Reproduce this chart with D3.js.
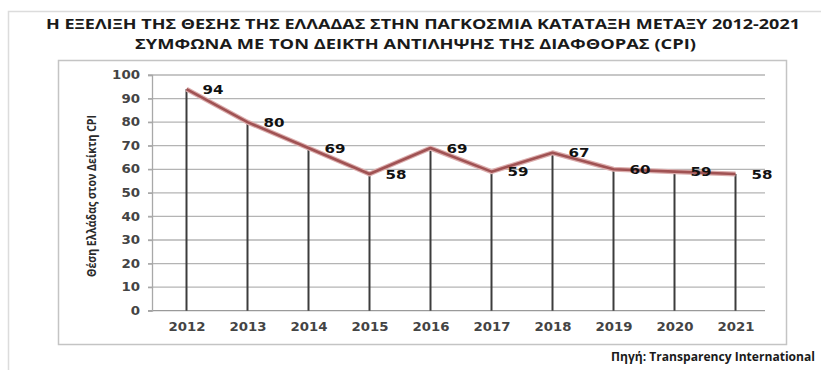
<!DOCTYPE html>
<html>
<head>
<meta charset="utf-8">
<script src="https://cdn.jsdelivr.net/npm/d3@7"></script>
<style>
  body { margin: 0; background: #fff; }
  svg { display: block; }
</style>
</head>
<body>
<div id="chart"></div>
<script>
// Greece's rank in the CPI, 2012-2021
const years = ["2012", "2013", "2014", "2015", "2016", "2017", "2018", "2019", "2020", "2021"];
const ranks = [94, 80, 69, 58, 69, 59, 67, 60, 59, 58];
const yTicks = [0, 10, 20, 30, 40, 50, 60, 70, 80, 90, 100];

const titleLines = [
    "Η ΕΞΕΛΙΞΗ ΤΗΣ ΘΕΣΗΣ ΤΗΣ ΕΛΛΑΔΑΣ ΣΤΗΝ ΠΑΓΚΟΣΜΙΑ ΚΑΤΑΤΑΞΗ ΜΕΤΑΞΥ 2012-2021",
    "ΣΥΜΦΩΝΑ ΜΕ ΤΟΝ ΔΕΙΚΤΗ ΑΝΤΙΛΗΨΗΣ ΤΗΣ ΔΙΑΦΘΟΡΑΣ (CPI)"
];
const yTitle = "Θέση Ελλάδας στον Δείκτη CPI";
const source = "Πηγή: Transparency International";

const width = 821;
const height = 370;

const svg = d3.select("#chart")
    .append("svg")
    .attr("width", width)
    .attr("height", height);

// outer frame (cut off at the right / bottom)
svg.append("rect")
    .attr("x", 8.5).attr("y", 11.5)
    .attr("width", 900).attr("height", 400)
    .attr("fill", "none")
    .attr("stroke", "#dcdcdc")
    .attr("stroke-width", 1.5);

// inner chart frame
svg.append("rect")
    .attr("x", 58.5).attr("y", 60.5)
    .attr("width", 728).attr("height", 284)
    .attr("fill", "none")
    .attr("stroke", "#c4c4c4")
    .attr("stroke-width", 1.5);

// titles
svg.selectAll(".title")
    .data(titleLines)
    .enter()
    .append("text")
        .attr("class", "title")
        .attr("x", function(d, i) { return i === 0 ? 46 : 135; })
        .attr("y", function(d, i) { return i === 0 ? 28.5 : 49; })
        .attr("textLength", function(d, i) { return i === 0 ? 754 : 561; })
        .attr("lengthAdjust", "spacingAndGlyphs")
        .style("font-family", "'Open Sans', sans-serif")
        .style("font-weight", "bold")
        .style("font-size", "15px")
        .style("fill", "#1a1a1a")
        .text(function(d) { return d; });

const plotLeft = 152;
const plotRight = 765;

const xScale = d3.scalePoint()
    .domain(years)
    .range([186.5, 735.5]);

const yScale = d3.scaleLinear()
    .domain([0, 100])
    .range([310.7, 75]);

// horizontal gridlines
svg.selectAll(".grid")
    .data(yTicks)
    .enter()
    .append("line")
        .attr("class", "grid")
        .attr("x1", plotLeft - 4)
        .attr("x2", plotRight)
        .attr("y1", function(d) { return yScale(d); })
        .attr("y2", function(d) { return yScale(d); })
        .attr("stroke", function(d) { return d === 0 ? "#9a9a9a" : "#b4b4b4"; })
        .attr("stroke-width", 1.3);

// y axis
const yAxis = svg.append("g")
    .attr("transform", `translate(${plotLeft},0)`)
    .call(d3.axisLeft(yScale).tickValues(yTicks).tickSize(4).tickPadding(8));

yAxis.select(".domain").attr("stroke", "#a8a8a8").attr("stroke-width", 1.3);
yAxis.selectAll(".tick line").attr("stroke", "#a8a8a8").attr("stroke-width", 1.3);
yAxis.selectAll(".tick text")
    .attr("textLength", function(d) { return String(d).length * 9.3; })
    .attr("lengthAdjust", "spacingAndGlyphs")
    .style("font-family", "'DejaVu Sans', sans-serif")
    .style("font-size", "11.5px")
    .style("font-weight", "600")
    .style("fill", "#444");

// x axis labels
const xAxis = svg.append("g")
    .attr("transform", `translate(0,${yScale(0)})`)
    .call(d3.axisBottom(xScale).tickSize(0).tickPadding(12));

xAxis.select(".domain").remove();
xAxis.selectAll(".tick text")
    .attr("textLength", 37)
    .attr("lengthAdjust", "spacingAndGlyphs")
    .style("font-family", "'DejaVu Sans', sans-serif")
    .style("font-size", "11.5px")
    .style("font-weight", "600")
    .style("fill", "#444");

// y axis title
svg.append("text")
    .attr("transform", "translate(96,196) rotate(-90)")
    .attr("text-anchor", "middle")
    .attr("textLength", 162)
    .attr("lengthAdjust", "spacingAndGlyphs")
    .style("font-family", "'Open Sans', sans-serif")
    .style("font-weight", "bold")
    .style("font-size", "13px")
    .style("fill", "#2a2a2a")
    .text(yTitle);

const points = years.map(function(y, i) {
    return {year: y, rank: ranks[i]};
});

// drop lines
svg.selectAll(".drop")
    .data(points)
    .enter()
    .append("line")
        .attr("class", "drop")
        .attr("x1", function(d) { return xScale(d.year); })
        .attr("x2", function(d) { return xScale(d.year); })
        .attr("y1", function(d) { return yScale(d.rank); })
        .attr("y2", yScale(0))
        .attr("stroke", "#3c3c3c")
        .attr("stroke-width", 2);

// main line
const line = d3.line()
    .x(function(d) { return xScale(d.year); })
    .y(function(d) { return yScale(d.rank); });

svg.append("path")
    .datum(points)
    .attr("d", line)
    .attr("fill", "none")
    .attr("stroke", "#dcaeae")
    .attr("stroke-width", 5)
    .attr("stroke-linejoin", "round");

svg.append("path")
    .datum(points)
    .attr("d", line)
    .attr("fill", "none")
    .attr("stroke", "#a05253")
    .attr("stroke-width", 2.6)
    .attr("stroke-linejoin", "round");

// value labels
svg.selectAll(".label")
    .data(points)
    .enter()
    .append("text")
        .attr("class", "label")
        .attr("x", function(d) { return xScale(d.year) + 16; })
        .attr("y", function(d) { return yScale(d.rank); })
        .attr("dy", "0.38em")
        .attr("textLength", 21)
        .attr("lengthAdjust", "spacingAndGlyphs")
        .style("font-family", "'DejaVu Sans', sans-serif")
        .style("font-weight", "bold")
        .style("font-size", "12px")
        .style("fill", "#111")
        .text(function(d) { return d.rank; });

// source
svg.append("text")
    .attr("x", 815)
    .attr("y", 361)
    .attr("text-anchor", "end")
    .attr("textLength", 204)
    .attr("lengthAdjust", "spacingAndGlyphs")
    .style("font-family", "'Open Sans', sans-serif")
    .style("font-weight", "bold")
    .style("font-size", "12.5px")
    .style("fill", "#1a1a1a")
    .text(source);
</script>
</body>
</html>
